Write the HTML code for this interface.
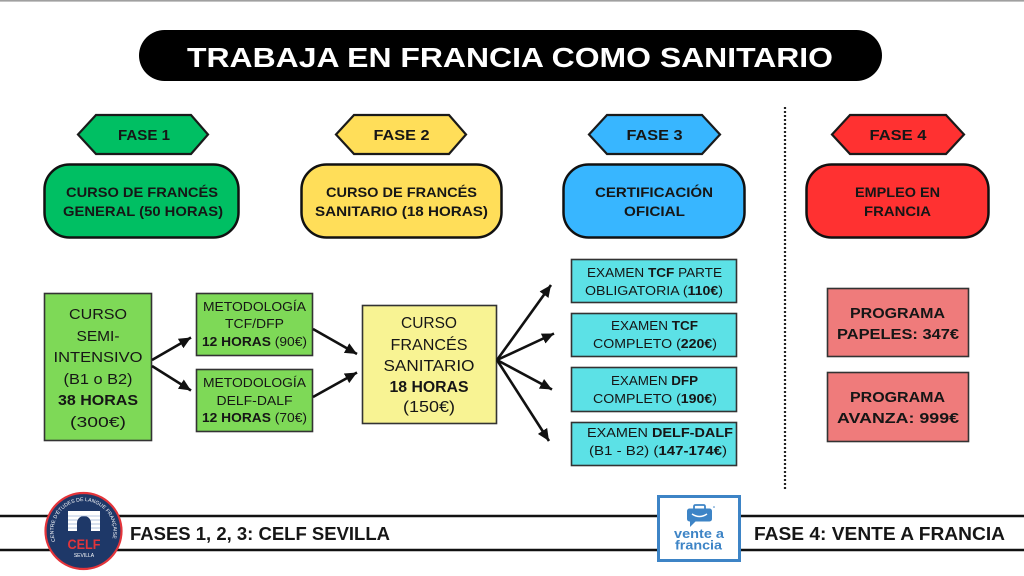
<!DOCTYPE html>
<html><head><meta charset="utf-8"><style>
html,body{margin:0;padding:0;background:#fff;}
svg{display:block;}
text{font-family:"Liberation Sans",Arial,sans-serif;fill:#161616;}
.b{font-weight:700;}
</style></head><body>
<svg width="1024" height="576" viewBox="0 0 1024 576" xmlns="http://www.w3.org/2000/svg">
<defs>
<marker id="ah" markerUnits="userSpaceOnUse" markerWidth="13" markerHeight="11" refX="12" refY="5.5" orient="auto">
<path d="M0,0 L12,5.5 L0,11 z" fill="#111"/>
</marker>
<path id="circ" d="M57.5,546 A30,30 0 1,1 109.5,546"/>
</defs>
<rect width="1024" height="576" fill="#fff"/>
<line x1="0" y1="0.8" x2="1024" y2="0.8" stroke="#a0a0a0" stroke-width="1.6"/>

<!-- Title -->
<rect x="139" y="30" width="743" height="51" rx="25.5" fill="#000"/>
<text x="510" y="67" text-anchor="middle" class="b" font-size="28" textLength="646" lengthAdjust="spacingAndGlyphs" style="fill:#fff">TRABAJA EN FRANCIA COMO SANITARIO</text>

<!-- Hexagons -->
<g stroke="#1a1a1a" stroke-width="2.2" stroke-linejoin="miter">
<polygon points="78,134.5 96,115 191,115 208,134.5 191,154 96,154" fill="#00bf63"/>
<polygon points="336,134.5 354,115 449,115 466,134.5 449,154 354,154" fill="#ffde59"/>
<polygon points="589,134.5 607,115 702,115 720,134.5 702,154 607,154" fill="#38b6ff"/>
<polygon points="832,134.5 850,115 946,115 964,134.5 946,154 850,154" fill="#ff3131"/>
</g>
<g class="b" font-size="15" text-anchor="middle">
<text x="144" y="140" class="b" textLength="52" lengthAdjust="spacingAndGlyphs">FASE 1</text>
<text x="401.5" y="140" class="b" textLength="56" lengthAdjust="spacingAndGlyphs">FASE 2</text>
<text x="654.5" y="140" class="b" textLength="56" lengthAdjust="spacingAndGlyphs">FASE 3</text>
<text x="898" y="140" class="b" textLength="57" lengthAdjust="spacingAndGlyphs">FASE 4</text>
</g>

<!-- Rounded phase boxes -->
<g stroke="#111" stroke-width="2.5">
<rect x="44.5" y="164.5" width="194" height="73" rx="25" fill="#00bf63"/>
<rect x="301.5" y="164.5" width="200" height="73" rx="25" fill="#ffde59"/>
<rect x="563.5" y="164.5" width="181" height="73" rx="25" fill="#38b6ff"/>
<rect x="806.5" y="164.5" width="182" height="73" rx="25" fill="#ff3131"/>
</g>
<g font-size="14" text-anchor="middle">
<text x="142" y="197" class="b" textLength="152" lengthAdjust="spacingAndGlyphs">CURSO DE FRANCÉS</text>
<text x="143" y="216" class="b" textLength="160" lengthAdjust="spacingAndGlyphs">GENERAL (50 HORAS)</text>
<text x="401.5" y="197" class="b" textLength="151" lengthAdjust="spacingAndGlyphs">CURSO DE FRANCÉS</text>
<text x="401.5" y="216" class="b" textLength="173" lengthAdjust="spacingAndGlyphs">SANITARIO (18 HORAS)</text>
<text x="654" y="197" class="b" textLength="118" lengthAdjust="spacingAndGlyphs">CERTIFICACIÓN</text>
<text x="654.5" y="216" class="b" textLength="61" lengthAdjust="spacingAndGlyphs">OFICIAL</text>
<text x="897.5" y="197" class="b" textLength="85" lengthAdjust="spacingAndGlyphs">EMPLEO EN</text>
<text x="897.5" y="216" class="b" textLength="67" lengthAdjust="spacingAndGlyphs">FRANCIA</text>
</g>

<!-- Dotted divider -->
<line x1="785" y1="107" x2="785" y2="491" stroke="#222" stroke-width="2.2" stroke-dasharray="2 2"/>

<!-- Boxes row -->
<g stroke="#333" stroke-width="1.6">
<rect x="44.5" y="293.5" width="107" height="147" fill="#7ed957"/>
<rect x="196.5" y="293.5" width="116" height="62" fill="#7ed957"/>
<rect x="196.5" y="369.5" width="116" height="62" fill="#7ed957"/>
<rect x="362.5" y="305.5" width="134" height="118" fill="#f8f393"/>
<rect x="571.5" y="259.5" width="165" height="43" fill="#5ce1e6"/>
<rect x="571.5" y="313.5" width="165" height="43" fill="#5ce1e6"/>
<rect x="571.5" y="367.5" width="165" height="44" fill="#5ce1e6"/>
<rect x="571.5" y="422.5" width="165" height="43" fill="#5ce1e6"/>
<rect x="827.5" y="288.5" width="141" height="68" fill="#ef7b7b"/>
<rect x="827.5" y="372.5" width="141" height="69" fill="#ef7b7b"/>
</g>

<!-- Semi box text -->
<g font-size="15" text-anchor="middle" style="fill:#222">
<text x="98" y="319" textLength="58" lengthAdjust="spacingAndGlyphs">CURSO</text>
<text x="98" y="341" textLength="43" lengthAdjust="spacingAndGlyphs">SEMI-</text>
<text x="98" y="362" textLength="89" lengthAdjust="spacingAndGlyphs">INTENSIVO</text>
<text x="98" y="384" textLength="69" lengthAdjust="spacingAndGlyphs">(B1 o B2)</text>
<text x="98" y="405" class="b" textLength="80" lengthAdjust="spacingAndGlyphs">38 HORAS</text>
<text x="98" y="427" textLength="56" lengthAdjust="spacingAndGlyphs">(300€)</text>
</g>

<!-- Metodologia -->
<g font-size="13" text-anchor="middle">
<text x="254.5" y="311" textLength="103" lengthAdjust="spacingAndGlyphs">METODOLOGÍA</text>
<text x="254.5" y="328" textLength="59" lengthAdjust="spacingAndGlyphs">TCF/DFP</text>
<text x="254.5" y="346" textLength="105" lengthAdjust="spacingAndGlyphs"><tspan class="b">12 HORAS</tspan> (90€)</text>
<text x="254.5" y="387" textLength="103" lengthAdjust="spacingAndGlyphs">METODOLOGÍA</text>
<text x="254.5" y="405" textLength="76" lengthAdjust="spacingAndGlyphs">DELF-DALF</text>
<text x="254.5" y="422" textLength="105" lengthAdjust="spacingAndGlyphs"><tspan class="b">12 HORAS</tspan> (70€)</text>
</g>

<!-- Sanitario -->
<g font-size="15.5" text-anchor="middle">
<text x="429" y="328" textLength="56" lengthAdjust="spacingAndGlyphs">CURSO</text>
<text x="429" y="350" textLength="77" lengthAdjust="spacingAndGlyphs">FRANCÉS</text>
<text x="429" y="371" textLength="91" lengthAdjust="spacingAndGlyphs">SANITARIO</text>
<text x="429" y="392" class="b" textLength="79" lengthAdjust="spacingAndGlyphs">18 HORAS</text>
<text x="429" y="412" textLength="52" lengthAdjust="spacingAndGlyphs">(150€)</text>
</g>

<!-- Exams -->
<g font-size="12.5" text-anchor="middle">
<text x="654.5" y="277" textLength="135" lengthAdjust="spacingAndGlyphs">EXAMEN <tspan class="b">TCF</tspan> PARTE</text>
<text x="654" y="295" textLength="138" lengthAdjust="spacingAndGlyphs">OBLIGATORIA (<tspan class="b">110€</tspan>)</text>
<text x="654.5" y="330" textLength="87" lengthAdjust="spacingAndGlyphs">EXAMEN <tspan class="b">TCF</tspan></text>
<text x="655" y="348" textLength="124" lengthAdjust="spacingAndGlyphs">COMPLETO (<tspan class="b">220€</tspan>)</text>
<text x="654.5" y="385" textLength="87" lengthAdjust="spacingAndGlyphs">EXAMEN <tspan class="b">DFP</tspan></text>
<text x="655" y="403" textLength="124" lengthAdjust="spacingAndGlyphs">COMPLETO (<tspan class="b">190€</tspan>)</text>
<text x="660" y="437" textLength="146" lengthAdjust="spacingAndGlyphs">EXAMEN <tspan class="b">DELF-DALF</tspan></text>
<text x="658" y="455" textLength="138" lengthAdjust="spacingAndGlyphs">(B1 - B2) (<tspan class="b">147-174€</tspan>)</text>
</g>

<!-- Programa -->
<g font-size="15" text-anchor="middle">
<text x="897.5" y="318" class="b" textLength="95" lengthAdjust="spacingAndGlyphs">PROGRAMA</text>
<text x="898" y="339" class="b" textLength="122" lengthAdjust="spacingAndGlyphs">PAPELES: 347€</text>
<text x="897.5" y="402" class="b" textLength="95" lengthAdjust="spacingAndGlyphs">PROGRAMA</text>
<text x="898" y="423" class="b" textLength="122" lengthAdjust="spacingAndGlyphs">AVANZA: 999€</text>
</g>

<!-- Arrows -->
<g stroke="#111" stroke-width="2.6" marker-end="url(#ah)">
<line x1="152" y1="360" x2="191" y2="337.5"/>
<line x1="152" y1="366" x2="191" y2="390.5"/>
<line x1="313" y1="329" x2="357" y2="354"/>
<line x1="313" y1="397" x2="357" y2="372.5"/>
<line x1="497" y1="360" x2="551" y2="285"/>
<line x1="497" y1="360" x2="554" y2="333.5"/>
<line x1="497" y1="360" x2="552" y2="389.5"/>
<line x1="497" y1="360" x2="549" y2="441"/>
</g>

<!-- Footer lines -->
<line x1="0" y1="516" x2="1024" y2="516" stroke="#111" stroke-width="2.4"/>
<line x1="0" y1="550" x2="1024" y2="550" stroke="#111" stroke-width="2.4"/>

<!-- CELF logo -->
<circle cx="83.5" cy="531" r="38" fill="#1e3868" stroke="#e4343a" stroke-width="2.2"/>
<text font-size="5" style="fill:#fff" textLength="112" lengthAdjust="spacingAndGlyphs"><textPath href="#circ" startOffset="5">CENTRE D'ÉTUDES DE LANGUE FRANÇAISE</textPath></text>
<path d="M68,511 H100 V531 H91 V523 A7,7 0 0,0 77,523 V531 H68 Z" fill="#fff"/>
<g stroke="#9fb4d6" stroke-width="0.8">
<line x1="68" y1="516" x2="100" y2="516"/>
<line x1="68" y1="520" x2="77.5" y2="520"/><line x1="90.5" y1="520" x2="100" y2="520"/>
<line x1="68" y1="524" x2="77" y2="524"/><line x1="91" y1="524" x2="100" y2="524"/>
<line x1="68" y1="528" x2="77" y2="528"/><line x1="91" y1="528" x2="100" y2="528"/>
</g>
<text x="84" y="549" text-anchor="middle" class="b" font-size="14" textLength="33" lengthAdjust="spacingAndGlyphs" style="fill:#e4343a">CELF</text>
<text x="84" y="557" text-anchor="middle" font-size="5" style="fill:#fff">SEVILLA</text>

<text x="130" y="540" class="b" font-size="18" textLength="260" lengthAdjust="spacingAndGlyphs">FASES 1, 2, 3: CELF SEVILLA</text>

<!-- Vente a Francia logo -->
<rect x="658.5" y="496.5" width="81" height="64" fill="#fff" stroke="#3d84c6" stroke-width="3"/>
<path d="M694,509 V506.5 Q694,505 695.5,505 H703.5 Q705,505 705,506.5 V509" fill="none" stroke="#3d84c6" stroke-width="1.8"/>
<rect x="687" y="508.5" width="25" height="13" rx="2.5" fill="#3d84c6"/>
<path d="M690,521 L690,527 L696,521 Z" fill="#3d84c6"/>
<path d="M692,514 Q699.5,519 707,514" fill="none" stroke="#fff" stroke-width="1.4"/>
<circle cx="714" cy="507" r="0.8" fill="#3d84c6"/>
<text x="699" y="538" text-anchor="middle" class="b" font-size="13" textLength="50" lengthAdjust="spacingAndGlyphs" style="fill:#3d84c6">vente a</text>
<text x="698.5" y="549.5" text-anchor="middle" class="b" font-size="13" textLength="47" lengthAdjust="spacingAndGlyphs" style="fill:#3d84c6">francia</text>

<text x="754" y="540" class="b" font-size="18" textLength="251" lengthAdjust="spacingAndGlyphs">FASE 4: VENTE A FRANCIA</text>
</svg>
</body></html>
